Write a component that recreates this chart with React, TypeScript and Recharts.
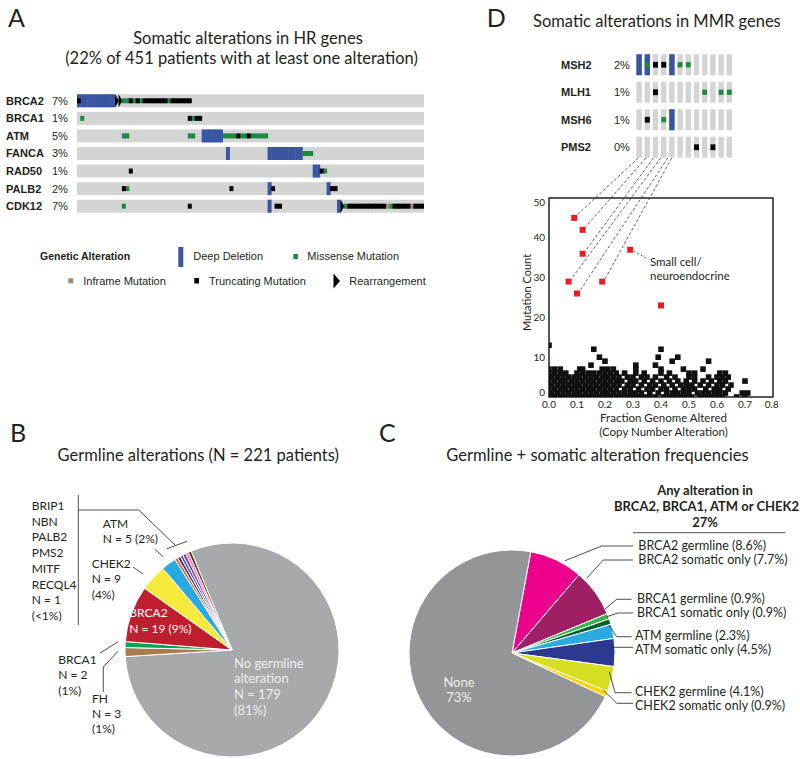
import React from 'react';
import { ScatterChart, Scatter, XAxis, YAxis, ReferenceArea, PieChart, Pie, Cell } from 'recharts';

const FONT = 'Lato, "Open Sans", sans-serif';
const ARIAL = '"Liberation Sans", Arial, sans-serif';
const INK = '#231F20';

// ---------- Panel A data (somatic HR oncoprint) ----------
const HR_GENES = ['BRCA2', 'BRCA1', 'ATM', 'FANCA', 'RAD50', 'PALB2', 'CDK12'];
const HR_PCT = ['7%', '1%', '5%', '3%', '1%', '2%', '7%'];
const HR_PATIENTS = 100;
type Span = [string, number, number];
const HR_DEEP_DELETION: Span[] = [
  ['BRCA2', 0, 10], ['ATM', 36, 41], ['FANCA', 43, 43], ['FANCA', 55, 64],
  ['RAD50', 68, 69], ['PALB2', 55, 55], ['PALB2', 72, 72], ['CDK12', 55, 55], ['CDK12', 75, 75],
];
const HR_MISSENSE: Span[] = [
  ['BRCA2', 13, 14], ['BRCA2', 16, 16], ['BRCA2', 18, 18], ['BRCA2', 26, 26],
  ['BRCA1', 1, 1], ['BRCA1', 33, 33],
  ['ATM', 13, 14], ['ATM', 32, 33], ['ATM', 42, 45], ['ATM', 47, 48], ['ATM', 50, 54],
  ['FANCA', 65, 67], ['RAD50', 71, 71], ['PALB2', 14, 14],
  ['CDK12', 13, 13], ['CDK12', 77, 77], ['CDK12', 90, 90],
];
const HR_TRUNCATING: Span[] = [
  ['BRCA2', 0, 0], ['BRCA2', 15, 15], ['BRCA2', 17, 17], ['BRCA2', 19, 25], ['BRCA2', 27, 32],
  ['BRCA1', 32, 32], ['BRCA1', 34, 35],
  ['ATM', 46, 46], ['ATM', 49, 49],
  ['RAD50', 15, 15], ['RAD50', 70, 70],
  ['PALB2', 13, 13], ['PALB2', 44, 44], ['PALB2', 56, 56], ['PALB2', 73, 74],
  ['CDK12', 32, 32], ['CDK12', 57, 58], ['CDK12', 78, 88], ['CDK12', 91, 95], ['CDK12', 97, 99],
];
const HR_INFRAME: Span[] = [['CDK12', 89, 89], ['CDK12', 96, 96]];
const HR_REARRANGEMENT: Span[] = [['BRCA2', 11, 12], ['CDK12', 76, 76]];

// ---------- Panel D data (MMR oncoprint + scatter) ----------
const MMR_GENES = ['MSH2', 'MLH1', 'MSH6', 'PMS2'];
const MMR_PCT = ['2%', '1%', '1%', '0%'];
const MMR_PATIENTS = 12;
const MMR_DEEP_DELETION: Span[] = [['MSH2', 0, 1], ['MSH2', 4, 4], ['MSH6', 4, 4]];
const MMR_MISSENSE: Span[] = [['MSH2', 1, 1], ['MSH2', 5, 6], ['MLH1', 8, 8], ['MLH1', 10, 11], ['MSH6', 3, 3]];
const MMR_TRUNCATING: Span[] = [['MSH2', 2, 3], ['MLH1', 2, 2], ['MSH6', 1, 1], ['PMS2', 7, 7], ['PMS2', 9, 9]];

const FGA_TICKS = [0, 0.1, 0.2, 0.3, 0.4, 0.5, 0.6, 0.7, 0.8];
const MUT_TICKS = [0, 10, 20, 30, 40, 50];
// hypermutated (red) cases: [fraction genome altered, mutation count]
const HYPERMUTATED: [number, number][] = [
  [0.09, 45], [0.12, 42], [0.12, 36], [0.07, 29], [0.10, 26], [0.19, 29], [0.29, 37], [0.40, 23],
];
// which MMR oncoprint column each of the first six red cases links to
const LINK_COLUMNS = [0, 1, 2, 3, 4, 4];
const LINK_OFFSETS = [-1.2, -1.7, -2.6, -3.4, -4.6, -0.6];
// remaining cases, grouped by mutation count
const OTHER_BY_COUNT: [number, number[]][] = [
  [0, [0, 0.02, 0.04, 0.06, 0.08, 0.10, 0.12, 0.14, 0.16, 0.18, 0.20, 0.22, 0.24, 0.26, 0.28, 0.30, 0.32, 0.34, 0.36, 0.38, 0.41, 0.43, 0.45, 0.47, 0.49, 0.51, 0.54, 0.56, 0.58, 0.60, 0.62, 0.67, 0.70]],
  [1, [0.01, 0.03, 0.05, 0.07, 0.09, 0.11, 0.13, 0.15, 0.17, 0.19, 0.21, 0.23, 0.25, 0.27, 0.29, 0.31, 0.33, 0.36, 0.39, 0.42, 0.44, 0.46, 0.48, 0.50, 0.53, 0.55, 0.57, 0.59, 0.61, 0.63, 0.69, 0.71]],
  [2, [0, 0.02, 0.04, 0.06, 0.08, 0.10, 0.12, 0.14, 0.16, 0.18, 0.20, 0.22, 0.24, 0.27, 0.29, 0.32, 0.35, 0.37, 0.40, 0.42, 0.45, 0.48, 0.50, 0.52, 0.56, 0.59, 0.61, 0.64]],
  [3, [0.01, 0.03, 0.05, 0.07, 0.09, 0.11, 0.13, 0.15, 0.17, 0.19, 0.21, 0.23, 0.25, 0.28, 0.30, 0.33, 0.36, 0.38, 0.41, 0.44, 0.47, 0.49, 0.51, 0.54, 0.57, 0.60, 0.62, 0.65]],
  [4, [0, 0.02, 0.04, 0.06, 0.08, 0.10, 0.12, 0.14, 0.16, 0.18, 0.20, 0.22, 0.24, 0.26, 0.29, 0.31, 0.34, 0.37, 0.40, 0.43, 0.46, 0.49, 0.52, 0.55, 0.58, 0.61, 0.63, 0.70]],
  [5, [0.01, 0.03, 0.05, 0.07, 0.09, 0.11, 0.13, 0.15, 0.17, 0.19, 0.21, 0.23, 0.25, 0.28, 0.30, 0.33, 0.35, 0.38, 0.42, 0.45, 0.50, 0.52, 0.57, 0.60, 0.62, 0.64]],
  [6, [0, 0.02, 0.04, 0.06, 0.10, 0.12, 0.14, 0.16, 0.18, 0.20, 0.22, 0.24, 0.27, 0.31, 0.34, 0.40, 0.43, 0.50, 0.52, 0.61, 0.63]],
  [7, [0, 0.02, 0.04, 0.11, 0.12, 0.19, 0.21, 0.23, 0.31, 0.40, 0.48, 0.55]],
  [8, [0.15, 0.31, 0.38]],
  [9, [0.20, 0.44, 0.57]],
  [10, [0.18, 0.39, 0.46]],
  [12, [0.16, 0.40]],
  [13, [0]],
];

// ---------- Panel B data ----------
const GERMLINE_NAMES = ['No germline alteration', 'FH', 'BRCA1', 'BRCA2', 'CHEK2', 'ATM', 'BRIP1', 'NBN', 'PALB2', 'PMS2', 'MITF', 'RECQL4'];
const GERMLINE_COUNTS = [179, 3, 2, 19, 9, 5, 1, 1, 1, 1, 1, 1];
const GERMLINE_COLORS = ['#A7A9AC', '#A97C50', '#00A651', '#BE1E2D', '#F7EA3A', '#27AAE1', '#F15A29', '#2E3192', '#5A5FAE', '#92278F', '#E07FD0', '#603913'];

// ---------- Panel C data ----------
const COMBINED_NAMES = ['BRCA2 germline', 'BRCA2 somatic only', 'BRCA1 germline', 'BRCA1 somatic only', 'ATM germline', 'ATM somatic only', 'CHEK2 germline', 'CHEK2 somatic only', 'None'];
const COMBINED_PCT = [8.6, 7.7, 0.9, 0.9, 2.3, 4.5, 4.1, 0.9, 73];
const COMBINED_COLORS = ['#EC008C', '#9E1F63', '#39B54A', '#00612E', '#29ABE2', '#2B3990', '#D7DF23', '#FFD400', '#939598'];

// ---------- layout ----------
const A_LEFT = 77, A_TOP = 92, A_W = 347, A_ROW = 17.57;
const A_H = A_ROW * HR_GENES.length;
const A_COL = A_W / HR_PATIENTS;
const D_LEFT = 635.4, D_TOP = 51, D_COLW = 8.2, D_ROW = 27.5;
const D_W = D_COLW * MMR_PATIENTS, D_H = D_ROW * MMR_GENES.length;
const S_PLOT_L = 549, S_PLOT_T = 198, S_PLOT_W = 224, S_PLOT_H = 199;
const S_YW = 25, S_XH = 20, S_MT = 5, S_MR = 5;

const expand = (spans: Span[], genes: string[]) =>
  spans.flatMap(([g, s, e]) => {
    const out: { x: number; y: number }[] = [];
    for (let c = s; c <= e; c++) out.push({ x: c + 0.5, y: genes.indexOf(g) });
    return out;
  });

const sx = (v: number) => S_PLOT_L + (v / 0.8) * S_PLOT_W;
const sy = (v: number) => S_PLOT_T + S_PLOT_H - (v / 50) * S_PLOT_H;

const rowBgShape = (p: any) => <rect x={p.cx - A_W / 2} y={p.cy - 6.5} width={A_W} height={13} fill="#D4D4D4" />;
const aCell = (color: string, h: number) => (p: any) => (
  <rect x={p.cx - A_COL / 2 - 0.25} y={p.cy - h / 2} width={A_COL + 0.5} height={h} fill={color} />
);
const aArrow = (p: any) => (
  <polygon points={`${p.cx - 1.8},${p.cy - 6.5} ${p.cx + 2},${p.cy} ${p.cx - 1.8},${p.cy + 6.5}`} fill="#000" />
);
const dCell = (color: string, w: number, h: number) => (p: any) => (
  <rect x={p.cx - w / 2} y={p.cy - h / 2} width={w} height={h} fill={color} />
);
const sq = (color: string, s: number) => (p: any) => (
  <rect x={p.cx - s / 2} y={p.cy - s / 2} width={s} height={s} fill={color} />
);
const yTick = (p: any) => (
  <text x={p.x} y={p.y + 3.5 - (p.payload.value === 0 ? 4.5 : 0)} textAnchor="end" fontSize={10} fontFamily={FONT} fill={INK}>
    {p.payload.value}
  </text>
);

const T = (x: number, y: number, s: string, o: any = {}) => (
  <text key={`${x}-${y}-${s}`} x={x} y={y} fontSize={o.size ?? 12} fontFamily={o.family ?? FONT}
    fontWeight={o.weight ?? 'normal'} textAnchor={o.anchor ?? 'start'} fill={o.fill ?? INK}
    transform={o.transform}>{s}</text>
);
const L = (pts: number[][], o: any = {}) => (
  <polyline key={pts.map((p) => p.join(',')).join(' ')} points={pts.map((p) => p.join(',')).join(' ')}
    fill="none" stroke={INK} strokeWidth={o.w ?? 0.8} strokeDasharray={o.dash} />
);

export default function App() {
  const hrBg = HR_GENES.map((_, i) => ({ x: HR_PATIENTS / 2, y: i }));
  const mmrBg = MMR_GENES.flatMap((_, i) => Array.from({ length: MMR_PATIENTS }, (_, c) => ({ x: c + 0.5, y: i })));
  const others = OTHER_BY_COUNT.flatMap(([count, xs]) => xs.map((x) => ({ x, y: count })));
  const hyper = HYPERMUTATED.map(([x, y]) => ({ x, y }));
  const germline = GERMLINE_NAMES.map((name, i) => ({ name, value: GERMLINE_COUNTS[i] }));
  const combined = COMBINED_NAMES.map((name, i) => ({ name, value: COMBINED_PCT[i] }));

  const aRowY = (i: number) => A_TOP + (i + 0.5) * A_ROW;
  const dRowY = (i: number) => D_TOP + (i + 0.5) * D_ROW;
  const dColX = (c: number) => D_LEFT + (c + 0.5) * D_COLW;

  return (
    <div style={{ position: 'absolute', left: 0, top: 0, width: 800, height: 759, background: '#fff', overflow: 'hidden' }}>
      {/* Panel A oncoprint */}
      <div style={{ position: 'absolute', left: A_LEFT, top: A_TOP }}>
        <ScatterChart width={A_W} height={A_H} margin={{ top: 0, right: 0, bottom: 0, left: 0 }}>
          <XAxis type="number" dataKey="x" domain={[0, HR_PATIENTS]} hide height={0} />
          <YAxis type="number" dataKey="y" domain={[-0.5, HR_GENES.length - 0.5]} reversed hide width={0} />
          <Scatter data={hrBg} shape={rowBgShape} isAnimationActive={false} />
          <Scatter data={expand(HR_DEEP_DELETION, HR_GENES)} shape={aCell('#3B55A5', 13)} isAnimationActive={false} />
          <Scatter data={expand(HR_MISSENSE, HR_GENES)} shape={aCell('#1B8A3E', 5)} isAnimationActive={false} />
          <Scatter data={expand(HR_INFRAME, HR_GENES)} shape={aCell('#A3877A', 5)} isAnimationActive={false} />
          <Scatter data={expand(HR_TRUNCATING, HR_GENES)} shape={aCell('#000000', 5)} isAnimationActive={false} />
          <Scatter data={expand(HR_REARRANGEMENT, HR_GENES)} shape={aArrow} isAnimationActive={false} />
        </ScatterChart>
      </div>

      {/* Panel D MMR oncoprint */}
      <div style={{ position: 'absolute', left: D_LEFT, top: D_TOP }}>
        <ScatterChart width={D_W} height={D_H} margin={{ top: 0, right: 0, bottom: 0, left: 0 }}>
          <XAxis type="number" dataKey="x" domain={[0, MMR_PATIENTS]} hide height={0} />
          <YAxis type="number" dataKey="y" domain={[-0.5, MMR_GENES.length - 0.5]} reversed hide width={0} />
          <Scatter data={mmrBg} shape={dCell('#D4D4D4', 5.5, 21)} isAnimationActive={false} />
          <Scatter data={expand(MMR_DEEP_DELETION, MMR_GENES)} shape={dCell('#3B55A5', 5.5, 21)} isAnimationActive={false} />
          <Scatter data={expand(MMR_MISSENSE, MMR_GENES)} shape={dCell('#1B8A3E', 4.8, 5.2)} isAnimationActive={false} />
          <Scatter data={expand(MMR_TRUNCATING, MMR_GENES)} shape={dCell('#000000', 5, 5.8)} isAnimationActive={false} />
        </ScatterChart>
      </div>

      {/* Panel D scatter */}
      <div style={{ position: 'absolute', left: S_PLOT_L - S_YW, top: S_PLOT_T - S_MT }}>
        <ScatterChart width={S_YW + S_PLOT_W + S_MR} height={S_MT + S_PLOT_H + S_XH}
          margin={{ top: S_MT, right: S_MR, bottom: 0, left: 0 }}>
          <XAxis type="number" dataKey="x" domain={[0, 0.8]} ticks={FGA_TICKS} height={S_XH}
            tickFormatter={(v: number) => v.toFixed(1)} axisLine={false} tickLine={false} tickSize={4} tickMargin={0}
            tick={{ fontSize: 10, fontFamily: FONT, fill: INK }} allowDataOverflow />
          <YAxis type="number" dataKey="y" domain={[0, 50]} ticks={MUT_TICKS} width={S_YW}
            axisLine={false} tickLine={false} tickSize={3} tickMargin={1}
            tick={yTick} allowDataOverflow />
          <ReferenceArea x1={0} x2={0.8} y1={0} y2={50} fill="none" fillOpacity={0} stroke={INK} strokeWidth={1.5} />
          <Scatter data={others} shape={sq('#111111', 5.6)} isAnimationActive={false} />
          <Scatter data={hyper} shape={sq('#ED1C24', 6)} isAnimationActive={false} />
        </ScatterChart>
      </div>

      {/* Panel B pie */}
      <div style={{ position: 'absolute', left: 106.7, top: 525 }}>
        <PieChart width={240} height={240}>
          <Pie data={germline} dataKey="value" nameKey="name" cx={120} cy={120} outerRadius={107}
            startAngle={112.5} endAngle={-247.5} stroke="#fff" strokeWidth={1} isAnimationActive={false}>
            {germline.map((d, i) => <Cell key={d.name} fill={GERMLINE_COLORS[i]} />)}
          </Pie>
        </PieChart>
      </div>

      {/* Panel C pie */}
      <div style={{ position: 'absolute', left: 396.7, top: 538.3 }}>
        <PieChart width={220} height={220}>
          <Pie data={combined} dataKey="value" nameKey="name" cx={110} cy={110} outerRadius={103}
            startAngle={79.5} endAngle={-280.5} stroke="#fff" strokeWidth={1} isAnimationActive={false}>
            {combined.map((d, i) => <Cell key={d.name} fill={COMBINED_COLORS[i]} />)}
          </Pie>
        </PieChart>
      </div>

      {/* Annotation overlay */}
      <svg width={800} height={759} style={{ position: 'absolute', left: 0, top: 0, pointerEvents: 'none' }}>
        {/* Panel A */}
        {T(8, 26.7, 'A', { size: 25 })}
        {T(248, 44.3, 'Somatic alterations in HR genes', { size: 16.5, anchor: 'middle' })}
        {T(241.5, 64, '(22% of 451 patients with at least one alteration)', { size: 16.5, anchor: 'middle' })}
        {HR_GENES.map((g, i) => T(6, aRowY(i) + 4, g, { size: 11, family: ARIAL, weight: 'bold' }))}
        {HR_PCT.map((p, i) => T(52, aRowY(i) + 4, p, { size: 11, family: ARIAL }))}
        {T(40, 260, 'Genetic Alteration', { size: 10.5, family: ARIAL, weight: 'bold' })}
        <rect x={178.3} y={247} width={5} height={20} fill="#3B55A5" />
        {T(193.3, 260, 'Deep Deletion', { size: 11, family: ARIAL })}
        <rect x={293.3} y={254} width={4.6} height={5} fill="#1B8A3E" />
        {T(307.3, 260, 'Missense Mutation', { size: 11, family: ARIAL })}
        <rect x={68.3} y={278.3} width={5} height={5} fill="#A3877A" />
        {T(83.3, 284.5, 'Inframe Mutation', { size: 11, family: ARIAL })}
        <rect x={194.3} y={278} width={4.7} height={5.5} fill="#000" />
        {T(209, 284.5, 'Truncating Mutation', { size: 11, family: ARIAL })}
        <polygon points="333.5,273.5 340,281 333.5,288.5" fill="#000" />
        {T(349.3, 284.5, 'Rearrangement', { size: 11, family: ARIAL })}

        {/* Panel D */}
        {T(486.7, 26.7, 'D', { size: 25 })}
        {T(533, 27, 'Somatic alterations in MMR genes', { size: 16.5 })}
        {MMR_GENES.map((g, i) => T(561, dRowY(i) + 4, g, { size: 11, family: ARIAL, weight: 'bold' }))}
        {MMR_PCT.map((p, i) => T(614, dRowY(i) + 4, p, { size: 11, family: ARIAL }))}
        {HYPERMUTATED.slice(0, 6).map(([x, y], i) =>
          L([[dColX(LINK_COLUMNS[i]) + LINK_OFFSETS[i], D_TOP + D_H - 3], [sx(x) + 3, sy(y) - 3]], { dash: '3 2', w: 0.7 }))}
        {L([[sx(0.29) + 3.5, sy(37) + 1.5], [647, 258.5]], { dash: '2 2', w: 0.7 })}
        {T(650, 265.5, 'Small cell/', { size: 11.5 })}
        {T(650, 279.5, 'neuroendocrine', { size: 11.5 })}
        {T(531, 292.5, 'Mutation Count', { size: 11, anchor: 'middle', transform: 'rotate(-90 531 292.5)' })}
        {T(663.5, 422, 'Fraction Genome Altered', { size: 11.5, anchor: 'middle' })}
        {T(663.5, 436, '(Copy Number Alteration)', { size: 11.5, anchor: 'middle' })}

        {/* Panel B */}
        {T(10, 441.7, 'B', { size: 25 })}
        {T(198.3, 460.7, 'Germline alterations (N = 221 patients)', { size: 16.5, anchor: 'middle' })}
        {['BRIP1', 'NBN', 'PALB2', 'PMS2', 'MITF', 'RECQL4', 'N = 1', '(<1%)'].map((s, i) => T(31.7, 510 + i * 15.7, s, { size: 12 }))}
        {L([[78.3, 495], [78.3, 625]])}
        {L([[78.3, 510], [138.7, 510], [175, 545]])}
        {L([[167, 548.7], [187, 541.3]])}
        {T(102.7, 528.3, 'ATM', { size: 12 })}
        {T(102.7, 543.3, 'N = 5 (2%)', { size: 12 })}
        {L([[155, 549.5], [163, 556.5]])}
        {T(91.7, 568.3, 'CHEK2', { size: 12 })}
        {T(91.7, 583.3, 'N = 9', { size: 12 })}
        {T(91.7, 598.5, '(4%)', { size: 12 })}
        {L([[133, 567], [143, 574]])}
        {T(129.3, 617.3, 'BRCA2', { size: 12, fill: '#fff' })}
        {T(129.3, 632.7, 'N = 19 (9%)', { size: 12, fill: '#fff' })}
        {T(58.3, 664, 'BRCA1', { size: 12 })}
        {T(58.3, 679.3, 'N = 2', { size: 12 })}
        {T(58.3, 694.5, '(1%)', { size: 12 })}
        {L([[100, 653], [118.3, 641.7]])}
        {T(92, 703.3, 'FH', { size: 12 })}
        {T(92, 718.3, 'N = 3', { size: 12 })}
        {T(92, 733.3, '(1%)', { size: 12 })}
        {L([[118.3, 651], [103.3, 667], [103.3, 692]])}
        {['No germline', 'alteration', 'N = 179', '(81%)'].map((s, i) => T(234, 667.7 + i * 15.6, s, { size: 13, fill: '#EDEEEF' }))}

        {/* Panel C */}
        {T(379, 441.7, 'C', { size: 25 })}
        {T(597.5, 460.7, 'Germline + somatic alteration frequencies', { size: 16.5, anchor: 'middle' })}
        {T(705, 495, 'Any alteration in', { size: 13, weight: 'bold', anchor: 'middle' })}
        {T(706.5, 510.7, 'BRCA2, BRCA1, ATM or CHEK2', { size: 13, weight: 'bold', anchor: 'middle' })}
        {T(705, 526.7, '27%', { size: 13, weight: 'bold', anchor: 'middle' })}
        {L([[633, 532.7], [785, 532.7]])}
        {T(638.3, 549.5, 'BRCA2 germline (8.6%)', { size: 12.5 })}
        {T(638.3, 563.5, 'BRCA2 somatic only (7.7%)', { size: 12.5 })}
        {L([[565, 560.7], [601.7, 546], [633, 546]])}
        {L([[586.7, 578.3], [603.3, 560], [633, 560]])}
        {T(637, 603, 'BRCA1 germline (0.9%)', { size: 12.5 })}
        {T(637, 616.5, 'BRCA1 somatic only (0.9%)', { size: 12.5 })}
        {L([[605, 609], [616.7, 599.3], [631.7, 599.3]])}
        {L([[606.7, 616.7], [618.3, 613], [633, 613]])}
        {T(635, 640, 'ATM germline (2.3%)', { size: 12.5 })}
        {T(635, 653.5, 'ATM somatic only (4.5%)', { size: 12.5 })}
        {L([[609, 625], [616.7, 636.7], [631.7, 636.7]])}
        {L([[610.7, 647.3], [633, 647.3]])}
        {T(635, 696, 'CHEK2 germline (4.1%)', { size: 12.5 })}
        {T(635, 709.5, 'CHEK2 somatic only (0.9%)', { size: 12.5 })}
        {L([[609.3, 671.7], [615, 692.7], [631.7, 692.7]])}
        {L([[603.3, 690], [616.7, 703.3], [633, 703.3]])}
        {T(459, 686.7, 'None', { size: 13, anchor: 'middle', fill: '#EDEEEF' })}
        {T(459, 702.2, '73%', { size: 13, anchor: 'middle', fill: '#EDEEEF' })}
      </svg>
    </div>
  );
}
